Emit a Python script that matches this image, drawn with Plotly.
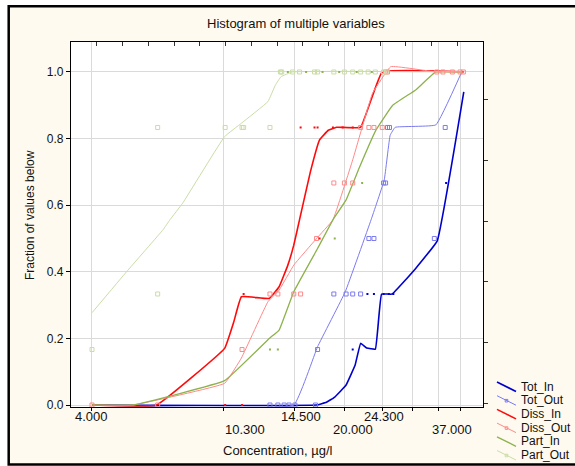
import math
import plotly.graph_objects as go

# ---- cumulative curves: concentration (ug/l) vs fraction of values below ----
tot_in_x = [4.0, 16.0, 17.0, 17.9, 19.2, 20.3, 21.0, 21.8, 23.0, 23.9, 25.5, 29.5, 33.7, 39.7]
tot_in_y = [0.0, 0.0, 0.008, 0.024, 0.06, 0.12, 0.185, 0.171, 0.168, 0.333, 0.333, 0.41, 0.493, 0.94]

tot_out_x = [4.0, 13.9, 16.1, 19.1, 22.4, 24.3, 25.2, 26.0, 33.4, 39.2]
tot_out_y = [0.0, 0.0, 0.175, 0.34, 0.556, 0.676, 0.81, 0.834, 0.841, 1.0]

diss_in_x = [4.0, 5.96, 9.07, 9.6, 10.06, 11.95, 12.7, 13.4, 13.9, 14.4, 15.4, 16.3, 17.2, 18.1, 21.0, 24.0, 39.7]
diss_in_y = [0.0, 0.0, 0.17, 0.25, 0.325, 0.32, 0.355, 0.42, 0.48, 0.556, 0.7, 0.796, 0.825, 0.834, 0.834, 1.0, 1.0]

diss_out_x = [4.0, 5.15, 9.07, 10.06, 11.85, 12.7, 13.9, 16.0, 17.7, 20.0, 22.6, 25.3, 33.4, 39.2]
diss_out_y = [0.0, 0.0, 0.065, 0.141, 0.31, 0.345, 0.42, 0.5, 0.556, 0.736, 0.936, 1.016, 1.0, 1.0]

part_in_x = [4.0, 5.15, 9.07, 11.95, 12.7, 13.9, 16.1, 17.7, 19.2, 20.8, 23.1, 25.6, 29.5, 33.4, 39.2]
part_in_y = [0.0, 0.0, 0.073, 0.2, 0.225, 0.34, 0.47, 0.556, 0.616, 0.711, 0.826, 0.9, 0.946, 1.0, 1.0]

part_out_x = [4.0, 4.95, 6.2, 6.47, 7.0, 9.07, 10.06, 11.85, 12.4, 12.85, 13.8, 39.2]
part_out_y = [0.277, 0.4, 0.526, 0.556, 0.606, 0.806, 0.846, 0.911, 0.96, 0.986, 1.0, 1.0]

# ---- observed points (fractions in sixths) ----
tot_out_px = [12.0, 12.6, 13.1, 13.5, 14.0, 15.9, 16.1, 17.8, 19.2, 20.0, 21.0, 22.1, 22.8, 33.1, 24.2, 24.5, 24.8, 25.1, 35.4]
tot_out_py = [0, 0, 0, 0, 0, 0, 1/6, 2/6, 2/6, 2/6, 2/6, 3/6, 3/6, 3/6, 4/6, 4/6, 5/6, 5/6, 5/6]

tot_in_px = [20.0, 21.9, 22.8, 24.2, 25.0, 25.7, 35.6]
tot_in_py = [1/6, 2/6, 2/6, 2/6, 2/6, 2/6, 4/6]

diss_out_px = [4.0, 6.0, 10.1, 12.0, 12.6, 13.9, 14.5, 16.0, 17.8, 19.0, 20.0, 21.0, 22.1, 22.8, 24.0,
               24.5, 24.8, 33.6, 34.9, 37.0, 38.8, 39.6]
diss_out_py = [0, 0, 1/6, 2/6, 2/6, 2/6, 2/6, 3/6, 4/6, 4/6, 4/6, 5/6, 5/6, 5/6, 5/6,
               1, 1, 1, 1, 1, 1, 1]

diss_in_px = [9.1, 10.1, 10.2, 14.5, 15.8, 16.1, 16.3, 17.7, 18.8, 20.0]
diss_in_py = [0, 0, 2/6, 5/6, 5/6, 5/6, 3/6, 5/6, 5/6, 5/6]

part_out_px = [4.0, 6.0, 6.0, 9.1, 10.1, 10.2, 12.0, 12.8, 12.9, 13.8, 14.4, 15.8, 16.1, 17.8,
               19.0, 20.0, 21.0, 22.0, 23.0, 24.2, 24.6]
part_out_py = [1/6, 2/6, 5/6, 5/6, 5/6, 5/6, 5/6, 1, 1, 1, 1, 1, 1, 1,
               1, 1, 1, 1, 1, 1, 1]

part_in_px = [12.0, 12.6, 17.9, 21.2, 13.4, 15.0, 16.6, 18.4, 20.5, 22.5]
part_in_py = [1/6, 1/6, 3/6, 4/6, 1, 1, 1, 1, 1, 1]

# ---- axis labelling ----
x_grid_vals = [4, 9, 14, 19, 24, 29, 34, 39]
x_label_row1 = [4.0, 14.5, 24.3]
x_label_row2 = [10.3, 20.0, 37.0]
y_tick_vals = [0.0, 0.2, 0.4, 0.6, 0.8, 1.0]

FONT = "Liberation Sans, Arial, sans-serif"
TOT_IN, TOT_OUT = "#0000CD", "#7B7BEF"
DISS_IN, DISS_OUT = "#FF0A0A", "#FF8A8A"
PART_IN, PART_OUT = "#8CB24C", "#CADDA6"

fig = go.Figure()

series = [
    ("Tot_In", tot_in_x, tot_in_y, TOT_IN, 1.6, False),
    ("Tot_Out", tot_out_x, tot_out_y, TOT_OUT, 1.0, True),
    ("Diss_In", diss_in_x, diss_in_y, DISS_IN, 1.6, False),
    ("Diss_Out", diss_out_x, diss_out_y, DISS_OUT, 1.0, True),
    ("Part_In", part_in_x, part_in_y, PART_IN, 1.3, False),
    ("Part_Out", part_out_x, part_out_y, PART_OUT, 1.0, True),
]
for name, xs, ys, col, w, _ in series:
    fig.add_trace(go.Scatter(
        x=xs, y=ys, name=name, mode="lines", showlegend=False,
        line=dict(color=col, width=w, shape="spline", smoothing=0.25),
        hoverinfo="skip"))

points = [
    (tot_out_px, tot_out_py, TOT_OUT, "square-open", 4, 1),
    (tot_in_px, tot_in_py, TOT_IN, "square", 2, 0),
    (diss_out_px, diss_out_py, DISS_OUT, "square-open", 4, 1),
    (diss_in_px, diss_in_py, DISS_IN, "square", 2, 0),
    (part_out_px, part_out_py, PART_OUT, "square-open", 4, 1),
    (part_in_px, part_in_py, PART_IN, "square", 2, 0),
]
for xs, ys, col, sym, sz, lw in points:
    fig.add_trace(go.Scatter(
        x=xs, y=ys, mode="markers", showlegend=False, hoverinfo="skip",
        marker=dict(symbol=sym, size=sz, color=col, line=dict(color=col, width=lw))))

# carrier for the secondary (count / bin) tick axes
fig.add_trace(go.Scatter(x=[None], y=[None], xaxis="x2", yaxis="y2",
                         showlegend=False, hoverinfo="skip"))

x_lo, x_hi = math.log10(3.514), math.log10(44.7)


def px_x(p):
    return (p - 71) / 412.0


def px_y(p):
    return (407 - p) / 365.0


annotations = []
for v in x_label_row1:
    annotations.append(dict(x=math.log10(v), y=-0.027, xref="x", yref="paper",
                            text=f"{v:.3f}", showarrow=False, yanchor="middle",
                            font=dict(size=13, color="#111", family=FONT)))
for v in x_label_row2:
    annotations.append(dict(x=math.log10(v), y=-0.062, xref="x", yref="paper",
                            text=f"{v:.3f}", showarrow=False, yanchor="middle",
                            font=dict(size=13, color="#111", family=FONT)))
annotations += [
    dict(x=0.546, y=1.052, xref="paper", yref="paper", showarrow=False,
         text="Histogram of multiple variables", yanchor="middle",
         font=dict(size=13, color="#111", family=FONT)),
    dict(x=0.5, y=-0.118, xref="paper", yref="paper", showarrow=False,
         text="Concentration, µg/l", yanchor="middle",
         font=dict(size=13, color="#111", family=FONT)),
    dict(x=-0.0995, y=0.526, xref="paper", yref="paper", showarrow=False,
         text="Fraction of values below", textangle=-90,
         xanchor="center", yanchor="middle",
         font=dict(size=12, color="#111", family=FONT)),
]

shapes = [
    # white strips outside the frame
    dict(type="rect", xref="paper", yref="paper", x0=px_x(-5), x1=px_x(7.5),
         y0=px_y(480), y1=px_y(-5), fillcolor="white", line=dict(width=0), layer="below"),
    dict(type="rect", xref="paper", yref="paper", x0=px_x(-5), x1=px_x(590),
         y0=px_y(5.2), y1=px_y(-5), fillcolor="white", line=dict(width=0), layer="below"),
    # outer frame
    dict(type="rect", xref="paper", yref="paper", x0=px_x(8.7), x1=px_x(600),
         y0=px_y(464.5), y1=px_y(6.3), line=dict(color="black", width=2.5)),
]

# key: slanted line samples with the series names beside them
for i, (name, _, _, col, w, has_marker) in enumerate(series):
    ty = 386.5 + 13.7 * i
    shapes.append(dict(type="line", xref="paper", yref="paper",
                       x0=px_x(497), y0=px_y(ty - 4.5), x1=px_x(516), y1=px_y(ty + 5),
                       line=dict(color=col, width=w)))
    if has_marker:
        shapes.append(dict(type="rect", xref="paper", yref="paper",
                           x0=px_x(505.2), y0=px_y(ty - 0.8), x1=px_x(507.8), y1=px_y(ty + 1.8),
                           line=dict(color=col, width=1)))
    annotations.append(dict(x=px_x(519), y=px_y(ty), xref="paper", yref="paper",
                            text=name, showarrow=False, xanchor="left", yanchor="middle",
                            font=dict(size=12, color="#111", family=FONT)))

fig.update_layout(
    width=575, height=466,
    margin=dict(l=71, r=92, t=42, b=59, autoexpand=False),
    paper_bgcolor="#FFFAF0",
    plot_bgcolor="white",
    font=dict(family=FONT, size=12, color="#111"),
    showlegend=False,
    xaxis=dict(type="log", range=[x_lo, x_hi], tickvals=x_grid_vals,
               showticklabels=False, ticks="outside", ticklen=3, tickcolor="black",
               showgrid=True, gridcolor="#DADADA", gridwidth=1,
               showline=True, linecolor="black", linewidth=1.2, mirror=True,
               zeroline=False),
    yaxis=dict(range=[-0.006, 1.09], tickvals=y_tick_vals, tickformat=".1f",
               ticks="outside", ticklen=4, tickcolor="black",
               tickfont=dict(size=12, family=FONT, color="#111"),
               showgrid=True, gridcolor="#DADADA", gridwidth=1,
               showline=True, linecolor="black", linewidth=1.2, mirror=True,
               zeroline=False),
    xaxis2=dict(overlaying="x", side="top", anchor="y2", range=[0, 16], dtick=1,
                ticks="inside", ticklen=4, tickcolor="#333", showticklabels=False,
                showgrid=False, zeroline=False, showline=False),
    yaxis2=dict(overlaying="y", side="right", anchor="x2", range=[-0.058, 5.946],
                tickvals=[0, 1, 2, 3, 4, 5], ticks="outside", ticklen=4,
                tickcolor="#333", showticklabels=False,
                showgrid=False, zeroline=False, showline=False),
    annotations=annotations,
    shapes=shapes,
)

fig.write_html("out.html")
